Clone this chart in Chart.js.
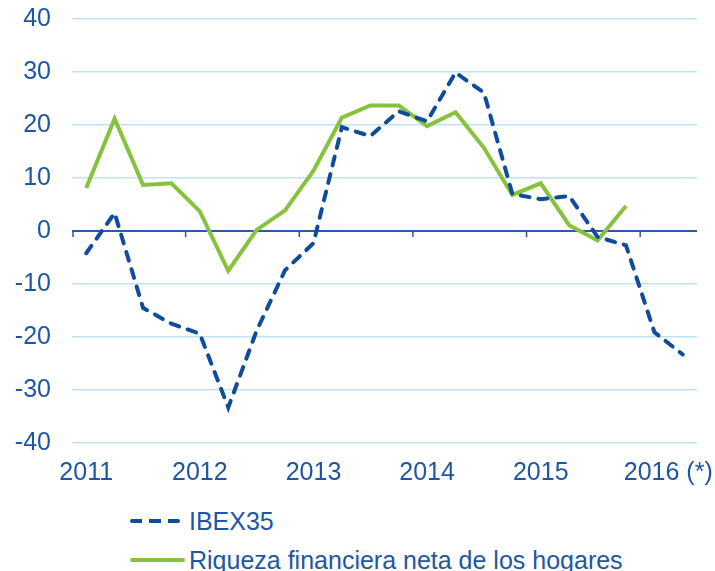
<!DOCTYPE html>
<html>
<head>
<meta charset="utf-8">
<script src="https://cdn.jsdelivr.net/npm/chart.js@4"></script>
<style>
  body { margin: 0; background: #fff; font-family: "Liberation Sans", Arial, sans-serif; }
  #wrap { position: relative; width: 715px; height: 490px; }
  .legend-row { position: absolute; left: 130px; height: 30px; display: flex; align-items: center; color: #1f56a3; font-size: 25px; white-space: nowrap; }
  .legend-row .swatch { height: 4px; }
  .dash { width: 50px; margin-right: 9px; background: repeating-linear-gradient(to right, #0f4c9c 0 12px, transparent 12px 19px); border-radius: 2px; }
  .solid { width: 55px; margin-right: 4px; background: #86c23c; border-radius: 2px; }
</style>
</head>
<body>
<div id="wrap"><canvas id="forecastChart"></canvas></div>
<div class="legend-row" style="top:506px"><span class="swatch dash"></span>IBEX35</div>
<div class="legend-row" style="top:545px"><span class="swatch solid"></span>Riqueza financiera neta de los hogares</div>
<script>
const quarters = ["2011T1","2011T2","2011T3","2011T4","2012T1","2012T2","2012T3","2012T4","2013T1","2013T2","2013T3","2013T4",
                  "2014T1","2014T2","2014T3","2014T4","2015T1","2015T2","2015T3","2015T4","2016T1","2016T2"];
const yearLabels = ["2011", "2012", "2013", "2014", "2015", "2016 (*)"];
const ibex35 = [-4.2, 3.4, -14.5, -17.5, -19.4, -33.3, -18.8, -7.4, -2.3, 19.6, 17.9, 22.6,
                20.7, 29.9, 26.1, 7.0, 6.0, 6.6, -1.1, -2.7, -19.1, -23.3];
const riqueza = [8.1, 21.2, 8.7, 9.0, 3.7, -7.5, 0.2, 3.9, 11.4, 21.4, 23.7, 23.7,
                 19.8, 22.4, 15.7, 6.8, 9.0, 1.1, -1.8, 4.7, null, null];

const textBlue = "#1f56a3";
const axisBlue = "#2a5aa3";

// zero line with year ticks, drawn from the scales
const zeroAxis = {
    id: "zeroAxis",
    beforeDatasetsDraw(chart) {
        const { ctx, chartArea, scales: { x, y } } = chart;
        const y0 = y.getPixelForValue(0);
        ctx.save();
        ctx.strokeStyle = axisBlue;
        ctx.lineWidth = 2;
        ctx.beginPath();
        ctx.moveTo(chartArea.left, y0);
        ctx.lineTo(chartArea.right, y0);
        ctx.stroke();
        ctx.lineWidth = 1.5;
        for (let i = 0; i < quarters.length; i += 4) {
            const xp = i === 0 ? chartArea.left + 1 : (x.getPixelForValue(i) + x.getPixelForValue(i - 1)) / 2;
            ctx.beginPath();
            ctx.moveTo(xp, y0);
            ctx.lineTo(xp, y0 + 6);
            ctx.stroke();
        }
        ctx.restore();
    }
};

new Chart(document.getElementById("forecastChart").getContext("2d"), {
    type: "line",
    data: {
        labels: quarters,
        datasets: [
            { label: "IBEX35", data: ibex35, borderColor: "#0f4c9c", borderWidth: 4, borderDash: [9, 9], borderCapStyle: "round", pointRadius: 0, tension: 0 },
            { label: "Riqueza financiera neta de los hogares", data: riqueza, borderColor: "#86c23c", borderWidth: 4, pointRadius: 0, tension: 0 }
        ]
    },
    options: {
        responsive: true,
        maintainAspectRatio: false,
        animation: false,
        layout: { padding: { top: 19, right: 18, left: 0, bottom: 0 } },
        scales: {
            x: {
                offset: true,
                grid: { display: false, drawTicks: false },
                border: { display: false },
                afterFit: s => { s.height = 47; s.paddingLeft = 0; s.paddingRight = 0; },
                ticks: {
                    autoSkip: false, maxRotation: 0, padding: 15, color: textBlue,
                    font: { family: "'Liberation Sans', Arial", size: 25 },
                    // the "(*)" hangs to the right of the year, so pad the front
                    callback: (v, i) => {
                        if (i % 4 !== 0) return "";
                        const t = yearLabels[i / 4];
                        return t.includes("(*)") ? "    " + t : t;
                    }
                }
            },
            y: {
                min: -40, max: 40,
                border: { display: false },
                grid: { color: c => c.tick.value === 0 ? "rgba(0,0,0,0)" : "#bfe3f5", lineWidth: 1.5, drawTicks: false },
                afterFit: s => { s.width = 72; s.paddingTop = 0; s.paddingBottom = 0; },
                ticks: { stepSize: 10, padding: 21, color: textBlue, font: { family: "'Liberation Sans', Arial", size: 25 } }
            }
        },
        plugins: { legend: { display: false }, tooltip: { enabled: false } }
    },
    plugins: [zeroAxis]
});
</script>
</body>
</html>
